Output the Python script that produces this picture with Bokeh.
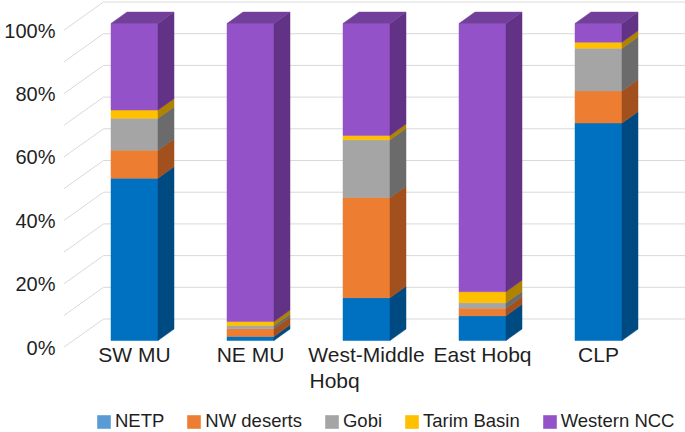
import numpy as np
from bokeh.plotting import figure
from bokeh.models import (Range1d, LinearAxis, FixedTicker, PrintfTickFormatter,
                          Legend, LegendItem)
from bokeh.core.properties import value
from bokeh.embed import file_html
from bokeh.resources import INLINE

# ---------------- data ----------------
categories = ["SW MU", "NE MU", "West-Middle Hobq", "East Hobq", "CLP"]
tick_labels = ["SW MU", "NE MU", "West-Middle\nHobq", "East Hobq", "CLP"]
series_names = ["NETP", "NW deserts", "Gobi", "Tarim Basin", "Western NCC"]
netp = [51.2, 1.3, 13.5, 7.8, 68.6]
nw_deserts = [8.8, 2.4, 31.6, 2.4, 10.1]
gobi = [10.1, 1.0, 18.2, 1.7, 13.5]
tarim_basin = [2.6, 1.3, 1.4, 3.5, 1.9]
western_ncc = [27.3, 94.0, 35.3, 84.6, 5.9]
y_ticks = [0, 20, 40, 60, 80, 100]
grid_levels = [0, 10, 20, 30, 40, 50, 60, 70, 80, 90, 100]

front_colors = ["#0070C0", "#ED7D31", "#A5A5A5", "#FFC000", "#9452C8"]
side_colors = ["#004A82", "#A1501E", "#6B6B6B", "#AF8300", "#623287"]
top_colors = ["#005A9E", "#B85F25", "#858585", "#C79600", "#72409B"]
legend_colors = ["#5B9BD5", "#ED7D31", "#A5A5A5", "#FFC000", "#9452C8"]

# ---------------- geometry ----------------
W, H = 685, 432
ML = 63
FW, FH = W - ML, H
PX_X = 116.0          # px per category
PX_Y = 3.17           # px per percent
BASE_CY = 340.0       # bar base, px from top of frame
x0 = -(134.0 - ML) / PX_X
y_end = BASE_CY / PX_Y
x_range = Range1d(x0, x0 + FW / PX_X)
y_range = Range1d(y_end - FH / PX_Y, y_end)

DXU = 40.0 / PX_X     # shift per unit depth (x, data)
DYU = 28.5 / PX_Y     # shift per unit depth (y, data)
D_BAR = 0.246         # depth of bar front face
BAR_DEPTH = 0.40
HW = 23.5 / PX_X      # half bar width


def proj(X, v, depth):
    return X + (depth - D_BAR) * DXU, v + (depth - D_BAR) * DYU


p = figure(width=W, height=H, x_range=x_range, y_range=y_range,
           output_backend="svg", toolbar_location=None,
           x_axis_location=None, y_axis_location=None,
           min_border_left=ML, min_border_right=0, min_border_top=0,
           min_border_bottom=0)
p.outline_line_color = None
p.xgrid.visible = False
p.ygrid.visible = False
p.background_fill_color = "white"
p.border_fill_color = "white"

# ---------------- walls ----------------
XW = x0 + D_BAR * DXU
grid_col = "#D9D9D9"
bx0, by0, bx1, by1 = [], [], [], []
for g in grid_levels:
    xa, ya = proj(XW, g, 1.0)
    bx0.append(xa); by0.append(ya); bx1.append(x_range.end + 0.1); by1.append(ya)
p.segment(x0=bx0, y0=by0, x1=bx1, y1=by1, line_color=grid_col, line_width=1)
lx0, ly0, lx1, ly1 = [], [], [], []
for g in grid_levels:
    xa, ya = proj(XW, g, 0.0)
    xb, yb = proj(XW, g, 1.0)
    lx0.append(xa); ly0.append(ya); lx1.append(xb); ly1.append(yb)
p.segment(x0=lx0, y0=ly0, x1=lx1, y1=ly1, line_color=grid_col, line_width=1)

# ---------------- bars ----------------
values = np.array([netp, nw_deserts, gobi, tarim_basin, western_ncc])
tops = np.cumsum(values, axis=0)
bottoms = tops - values
xs_idx = np.arange(len(categories))
d_front, d_back = D_BAR, D_BAR + BAR_DEPTH

for k in range(len(series_names)):
    p.vbar(x=xs_idx, bottom=bottoms[k], top=tops[k], width=2 * HW,
           fill_color=front_colors[k], line_color=front_colors[k], line_width=0.5)
    sxs, sys_ = [], []
    for i in xs_idx:
        b, t = bottoms[k][i], tops[k][i]
        pts = [proj(i + HW, b, d_front), proj(i + HW, t, d_front),
               proj(i + HW, t, d_back), proj(i + HW, b, d_back)]
        sxs.append([q[0] for q in pts]); sys_.append([q[1] for q in pts])
    p.patches(xs=sxs, ys=sys_, fill_color=side_colors[k],
              line_color=side_colors[k], line_width=0.5)

# top faces
txs, tys = [], []
for i in xs_idx:
    T = tops[-1][i]
    pts = [proj(i - HW, T, d_front), proj(i + HW, T, d_front),
           proj(i + HW, T, d_back), proj(i - HW, T, d_back)]
    txs.append([q[0] for q in pts]); tys.append([q[1] for q in pts])
p.patches(xs=txs, ys=tys, fill_color=top_colors[-1], line_color=top_colors[-1],
          line_width=0.5)

# ---------------- y axis (on the wall's front edge) ----------------
FONT = "Liberation Sans"
TXT = "#1F1F1F"
p.extra_y_ranges = {"wall": Range1d(y_range.start + D_BAR * DYU,
                                    y_range.end + D_BAR * DYU)}
yaxis = LinearAxis(y_range_name="wall", ticker=FixedTicker(ticks=y_ticks),
                   formatter=PrintfTickFormatter(format="%d%%"))
yaxis.axis_line_color = None
yaxis.major_tick_line_color = None
yaxis.minor_tick_line_color = None
yaxis.major_tick_out = 0
yaxis.major_tick_in = 0
yaxis.major_label_standoff = 8
yaxis.major_label_text_font = FONT
yaxis.major_label_text_font_size = "20px"
yaxis.major_label_text_color = TXT
p.add_layout(yaxis, "left")

# ---------------- category labels ----------------
LINE1_PX, LINE_GAP_PX = 13.5, 26.0
line1 = [t.split("\n")[0] for t in tick_labels]
p.text(x=xs_idx, y=[-LINE1_PX / PX_Y] * len(xs_idx), text=line1,
       text_align="center", text_baseline="middle",
       text_font=value(FONT), text_font_size="21px", text_color=TXT)
x2, t2 = [], []
for i, t in enumerate(tick_labels):
    parts = t.split("\n")
    if len(parts) > 1:
        x2.append(i); t2.append(parts[1])
# second line starts at the left edge of the first line (approx. half its width)
p.text(x=x2, y=[-(LINE1_PX + LINE_GAP_PX) / PX_Y] * len(x2), text=t2,
       x_offset=-57, text_align="left", text_baseline="middle",
       text_font=value(FONT), text_font_size="21px", text_color=TXT)

# ---------------- legend ----------------
items = []
for k, name in enumerate(series_names):
    # zero-height proxy bar: only provides the legend swatch colour
    r = p.vbar(x=[0], bottom=[0], top=[0], width=0.01,
               fill_color=legend_colors[k], line_color=None)
    items.append(LegendItem(label=name, renderers=[r]))
legend = Legend(items=items, orientation="horizontal", location=(32, 0),
                glyph_width=17, glyph_height=17, label_standoff=3, spacing=21,
                padding=0, margin=0, border_line_color=None,
                background_fill_alpha=0, label_text_font=FONT,
                label_text_font_size="18.5px", label_text_color=TXT)
p.add_layout(legend, "center")

open("out.html", "w").write(file_html(p, INLINE))
